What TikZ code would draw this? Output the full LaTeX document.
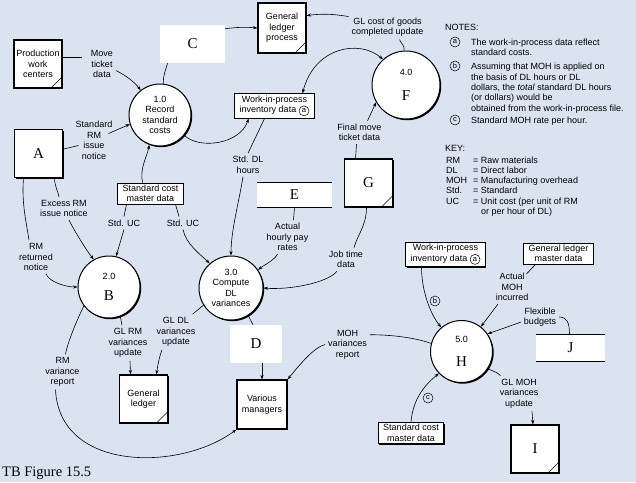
\documentclass[tikz,border=0pt]{standalone}
\usepackage{fontspec}
\setmainfont{Liberation Sans}
\newfontfamily\lettfont{Liberation Serif}
\usetikzlibrary{arrows.meta,shadows}
\definecolor{bgcol}{RGB}{220,227,240}
\newcommand{\dfd}{\fontsize{9}{10.5}\selectfont}
\newcommand{\bigletter}{\lettfont\fontsize{15}{17}\selectfont}
\newcommand{\circlet}[1]{\tikz[baseline=(cl.base)]\node[circle,draw,line width=0.5pt,inner sep=0pt,minimum size=10pt,font=\fontsize{7.5}{8}\selectfont] (cl) {#1};}

\begin{document}
\begin{tikzpicture}[x=1pt,y=-1pt,font=\dfd,
  entity/.style={draw,fill=white,line width=1.1pt,minimum width=48pt,minimum height=48pt,align=center,inner sep=1pt,
    drop shadow={shadow xshift=1.4pt,shadow yshift=-1.4pt,fill=black,opacity=1}},
  corner/.style={path picture={\draw[line width=0.6pt] ([xshift=-11pt]path picture bounding box.south east) -- ([yshift=11pt]path picture bounding box.south east);}},
  process/.style={circle,draw,fill=white,line width=1pt,minimum size=62pt,align=center,inner sep=0pt,
    drop shadow={shadow xshift=1.2pt,shadow yshift=-1.2pt,fill=black,opacity=1}},
  store/.style={draw,fill=white,line width=0.8pt,align=center,inner xsep=5pt,inner ysep=2pt,
    drop shadow={shadow xshift=1.2pt,shadow yshift=-1.2pt,fill=black,opacity=1}},
  openstore/.style={fill=white,minimum width=75pt,minimum height=24pt,font=\bigletter},
  mask/.style={fill=white,font=\bigletter},
  lbl/.style={align=center,inner sep=3pt},
  link/.style={line width=0.6pt},
  flow/.style={link,-{Stealth[length=4.5pt,width=3.2pt]}},
  cmark/.style={circle,draw,line width=0.5pt,inner sep=0pt,minimum size=10pt,font=\fontsize{7.5}{8}\selectfont},
  note/.style={anchor=base west,inner sep=0pt}]
\path[use as bounding box,fill=bgcol] (0,0) rectangle (636,482);

\node[entity,corner] (pwc) at (38,64) {Production\\work\\centers};
\node[entity,font=\bigletter] (A) at (38.5,153.5) {A};
\node[entity,corner,minimum height=50pt] (glp) at (282,28) {General\\ledger\\process};
\node[entity,corner,font=\bigletter] (G) at (368.5,183) {G};
\node[entity,corner] (GL) at (143.5,399) {General\\ledger};
\node[entity,minimum width=50pt,minimum height=49pt] (VM) at (262,404.5) {Various\\managers};
\node[entity,corner,font=\bigletter] (I) at (535,449) {I};

\node[process] (rec) at (160,115) {1.0\\Record\\standard\\costs};
\node[process] (B) at (109,287) {2.0\\[11pt]{\bigletter B}};
\node[process,minimum size=64pt] (C3) at (231,288) {3.0\\Compute\\DL\\variances};
\node[process,minimum size=68pt] (F) at (406,85) {4.0\\[14pt]{\bigletter F}};
\node[process] (H) at (461.5,351.5) {5.0\\[14pt]{\bigletter H}};

\node[store] (wip1) at (274.5,106) {Work-in-process\\inventory data \circlet{a}};
\node[store] (scm1) at (150.5,193.5) {Standard cost\\master data};
\node[store] (wip2) at (445.5,254.5) {Work-in-process\\inventory data \circlet{a}};
\node[store] (glmd) at (558.5,253.5) {General ledger\\master data};
\node[store] (scm2) at (411,433) {Standard cost\\master data};
\node[openstore] (E) at (294.5,195) {E};
\node[openstore,minimum width=69pt,minimum height=26pt] (J) at (570.5,348) {J};
\draw[line width=1.2pt] (E.north west) -- (E.north east) (E.south west) -- (E.south east);
\draw[line width=1.2pt] (J.north west) -- (J.north east) (J.south west) -- (J.south east);

\node[mask,minimum width=65pt,minimum height=38pt] (C) at (192.5,44) {C};
\node[mask,minimum width=52pt,minimum height=38pt] (D) at (256,344) {D};

\node[lbl] (move) at (102,64) {Move\\ticket\\data};
\node[lbl] (stdrm) at (94,140.5) {Standard\\RM\\issue\\notice};
\node[lbl] (excess) at (64,208.5) {Excess RM\\issue notice};
\node[lbl] (rmret) at (36,257) {RM\\returned\\notice};
\node[lbl] (uc1) at (124,223) {Std. UC};
\node[lbl] (uc2) at (183,223) {Std. UC};
\node[lbl] (glrm) at (128,343) {GL RM\\variances\\update};
\node[lbl] (gldl) at (176,332) {GL DL\\variances\\update};
\node[lbl] (rmvar) at (62.5,372) {RM\\variance\\report};
\node[lbl] (stddl) at (248,165) {Std. DL\\hours};
\node[lbl] (glcost) at (387.5,27) {GL cost of goods\\completed update};
\node[lbl] (final) at (359.5,132.5) {Final move\\ticket data};
\node[lbl] (pay) at (287.5,237) {Actual\\hourly pay\\rates};
\node[lbl] (job) at (346,259.5) {Job time\\data};
\node[lbl] (mohvar) at (347.5,344.5) {MOH\\variances\\report};
\node[lbl] (actmoh) at (512,287) {Actual\\MOH\\incurred};
\node[lbl] (flex) at (540,317) {Flexible\\budgets};
\node[lbl] (glmoh) at (519,393.5) {GL MOH\\variances\\update};
\node[cmark] (nb) at (435,301) {b};
\node[cmark] (nc) at (428,398) {c};

\draw[link] (pwc.16) -- ([xshift=-6pt]move.west |- pwc.16);
\draw[flow] (move.-25) .. controls +(10,5) and +(-6,-8) .. (rec.128);
\draw[link] (rec.84) .. controls +(0,-10) and +(-2,8) .. ([xshift=-25pt]C.south);
\draw[flow] (C.25) to[bend left=6] (glp.west);
\draw[flow] (glcost.165) to[bend right=8] (glp.27);
\draw[link] (F.93) .. controls +(0,-6) and +(3,6) .. ([xshift=12pt]glcost.south);
\draw[{Stealth[length=4.5pt,width=3.2pt]}-{Stealth[length=4.5pt,width=3.2pt]},link] (F.132) .. controls +(-23,-20) and +(12,-47) .. ([xshift=28pt]wip1.north);
\draw[flow] (rec.-40) .. controls +(16,15) and +(-8,25) .. ([xshift=-26pt]wip1.south);
\draw[link] ([xshift=-10pt]wip1.south) -- (stddl.north);
\draw[flow] ([xshift=-5pt]stddl.south) .. controls +(-4,25) and +(0,-25) .. (C3.north);
\draw[flow] ([xshift=-8pt]scm1.north) .. controls +(-3,-15) and +(-2,12) .. (rec.-110);
\draw[link] ([xshift=-24pt]scm1.south) -- (uc1.north);
\draw[flow] (uc1.south) -- (B.77);
\draw[link] ([xshift=25pt]scm1.south) -- ([xshift=-4pt]uc2.north);
\draw[flow] (uc2.south) .. controls +(3,15) and +(-8,-8) .. (C3.131);
\draw[link] (A.10) -- ([yshift=-5pt,xshift=6pt]stdrm.west);
\draw[flow] ([xshift=-7pt]stdrm.18) -- (rec.197);
\draw[link] ([xshift=16pt]A.south) .. controls +(0,8) and +(-1,-6) .. ([xshift=-5pt]excess.north);
\draw[flow] ([xshift=5pt]excess.south) .. controls +(5,10) and +(-8,-10) .. (B.119);
\draw[link] ([xshift=-15pt]A.south) .. controls +(-2,25) and +(-3,-20) .. ([xshift=-7pt]rmret.north);
\draw[flow] ([xshift=10pt]rmret.south) .. controls +(3,8) and +(-12,0) .. (B.west);
\draw[link] (B.-69) -- ([xshift=-6pt]glrm.north);
\draw[flow] ([xshift=2pt]glrm.south) -- ([xshift=-13pt]GL.north);
\draw[link] (C3.212) -- ([xshift=-6pt]gldl.north east);
\draw[flow] ([xshift=-14pt]gldl.south) .. controls +(-3,8) and +(1,-8) .. ([xshift=13pt]GL.north);
\draw[link] (B.217) .. controls +(-6,12) and +(2,-12) .. ([xshift=3pt]rmvar.north);
\draw[flow] ([xshift=-7pt]rmvar.south) .. controls +(4,82) and +(-57,42) .. (VM.south west);
\draw[link] (C3.-58) -- ([xshift=-3pt]D.north);
\draw[flow] ([xshift=6pt]D.south) -- (VM.north);
\draw[link] (H.165) .. controls +(-20,-7) and +(15,0) .. ([yshift=-8pt]mohvar.north east);
\draw[flow] (mohvar.west) .. controls +(-12,3) and +(10,-12) .. (VM.north east);
\draw[flow] ([xshift=-24pt]wip2.south) .. controls +(0,25) and +(-10,-12) .. (H.130);
\draw[link] ([xshift=-23pt]glmd.south) -- ([xshift=-5pt,yshift=-4pt]actmoh.north east);
\draw[flow] ([xshift=-14pt]actmoh.south) -- (H.52);
\draw[link] ([xshift=-1pt]J.north) .. controls +(0,-12) and +(8,0) .. (flex.east);
\draw[flow] (flex.195) -- (H.34);
\draw[link] (H.-33) .. controls +(6,3) and +(-4,-4) .. ([xshift=4pt]glmoh.north west);
\draw[flow] ([xshift=13pt]glmoh.south) -- ([xshift=-2pt]I.north);
\draw[flow] (scm2.north) .. controls +(2,-25) and +(-12,10) .. (H.224);
\draw[link] (E.south) -- ([xshift=6pt]pay.north);
\draw[flow] ([xshift=-10pt]pay.south) .. controls +(-3,6) and +(8,-6) .. (C3.34);
\draw[link] ([xshift=-13pt]G.north) -- ([xshift=-3pt]final.south);
\draw[flow] ([xshift=8pt]final.north) -- (F.210);
\draw[link] ([xshift=-2pt]G.south) .. controls +(0,18) and +(3,-12) .. ([xshift=8pt]job.north);
\draw[flow] ([xshift=-9pt]job.south) .. controls +(-10,12) and +(25,2) .. (C3.east);

\node[note] (notes) at (445,30) {NOTES:};
\node[cmark] (na) at (455,42) {a};
\node[cmark] (nbb) at (455,66) {b};
\node[cmark] (ncc) at (455,120) {c};
\foreach \y/\t [count=\i] in {45/{The work-in-process data reflect}, 55/{standard costs.}, 69/{Assuming that MOH is applied on}, 80/{the basis of DL hours or DL}, 90/{dollars, the \emph{total} standard DL hours}, 100/{(or dollars) would be}, 111/{obtained from the work-in-process file.}, 123/{Standard MOH rate per hour.}}
  \node[note] (n\i) at (471,\y) {\t};
\node[note] (key) at (445,151) {KEY:};
\foreach \y/\k/\v [count=\i] in {163/RM/Raw materials, 173/DL/Direct labor, 183/MOH/Manufacturing overhead, 193/Std./Standard, 204/UC/{Unit cost (per unit of RM}} {
  \node[note] (k\i) at (446,\y) {\k};
  \node[note] (v\i) at (473,\y) {= \v};
}
\node[note] (v6) at (481,214) {or per hour of DL)};
\node[note,font=\lettfont\fontsize{14.5}{16}\selectfont] (title) at (2,476) {TB Figure 15.5};
\end{tikzpicture}
\end{document}
